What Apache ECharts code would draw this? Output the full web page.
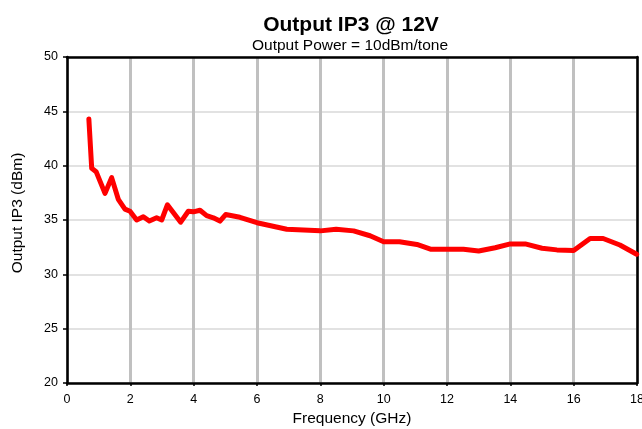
<!DOCTYPE html>
<html><head><meta charset="utf-8">
<script src="https://cdn.jsdelivr.net/npm/echarts@6/dist/echarts.min.js"></script>
<style>html,body{margin:0;padding:0;background:#fff}#c{width:642px;height:429px}</style>
</head><body><div id="c"></div>
<script>
var freqGHz = [0.69,0.78,0.92,1.2,1.41,1.62,1.83,1.99,2.2,2.41,2.6,2.83,2.99,3.17,3.59,3.83,3.99,4.2,4.41,4.62,4.83,5.01,5.46,6.0,6.94,8.0,8.5,9.05,9.57,10.0,10.5,11.05,11.5,12.0,12.52,13.0,13.52,14.0,14.47,15.0,15.47,16.0,16.52,16.93,17.46,17.99];
var oip3dBm = [44.3,39.76,39.45,37.45,38.9,36.9,36.0,35.8,35.0,35.3,34.9,35.2,35.0,36.4,34.8,35.8,35.75,35.9,35.4,35.2,34.9,35.5,35.25,34.75,34.15,34.0,34.15,34.0,33.55,33.0,33.0,32.75,32.3,32.3,32.3,32.15,32.45,32.8,32.8,32.4,32.25,32.2,33.3,33.3,32.7,31.85];
var titleText = 'Output IP3 @ 12V';
var subtitleText = 'Output Power = 10dBm/tone';
var xName = 'Frequency (GHz)';
var yName = 'Output IP3 (dBm)';

var pts = freqGHz.map(function(f,i){return [f, oip3dBm[i]];});
var font = 'Liberation Sans, Arial, sans-serif';
var chart = echarts.init(document.getElementById('c'), null, {renderer:'canvas'});
chart.setOption({
  animation:false,
  backgroundColor:'#fff',
  title:[
    {text:titleText, left:346, top:10, textAlign:'center',
     textStyle:{fontFamily:font, fontSize:21, fontWeight:'bold', color:'#000'}},
    {text:subtitleText, left:345, top:33, textAlign:'center',
     textStyle:{fontFamily:font, fontSize:15.5, fontWeight:'normal', color:'#000'}}
  ],
  grid:{left:67, right:5, top:57, bottom:46, containLabel:false, outerBoundsMode:'none'},
  xAxis:[{type:'value', min:0, max:18, interval:2,
    name:xName, nameLocation:'middle', nameGap:28,
    nameTextStyle:{fontFamily:font, fontSize:15.5, color:'#000'},
    axisLine:{show:true, lineStyle:{color:'#000', width:2.5}},
    axisTick:{show:true, length:3, lineStyle:{color:'#000', width:1.5}},
    axisLabel:{fontFamily:font, fontSize:12.5, color:'#000', margin:10},
    splitLine:{show:true, lineStyle:{color:'#c0c0c0', width:3}}
  },{type:'value', min:0, max:18, interval:2, position:'top',
    axisLine:{show:true, onZero:false, lineStyle:{color:'#000', width:2.5}},
    axisTick:{show:false}, axisLabel:{show:false}, splitLine:{show:false}
  }],
  yAxis:[{type:'value', min:20, max:50, interval:5,
    name:yName, nameLocation:'middle', nameGap:41, nameRotate:90,
    nameTextStyle:{fontFamily:font, fontSize:15.5, color:'#000', padding:[0,0,0,14]},
    axisLine:{show:true, lineStyle:{color:'#000', width:2.5}},
    axisTick:{show:true, length:4, lineStyle:{color:'#000', width:1.5}},
    axisLabel:{fontFamily:font, fontSize:12.5, color:'#000', margin:9},
    splitLine:{show:true, lineStyle:{color:'#d9d9d9', width:1.5}}
  },{type:'value', min:20, max:50, interval:5, position:'right',
    axisLine:{show:true, onZero:false, lineStyle:{color:'#000', width:2.5}},
    axisTick:{show:false}, axisLabel:{show:false}, splitLine:{show:false}
  }],
  series:[{type:'line', data:pts, showSymbol:false, symbol:'none',
    lineStyle:{color:'#ff0000', width:5, join:'round', cap:'round'}, z:5}]
});
</script></body></html>
